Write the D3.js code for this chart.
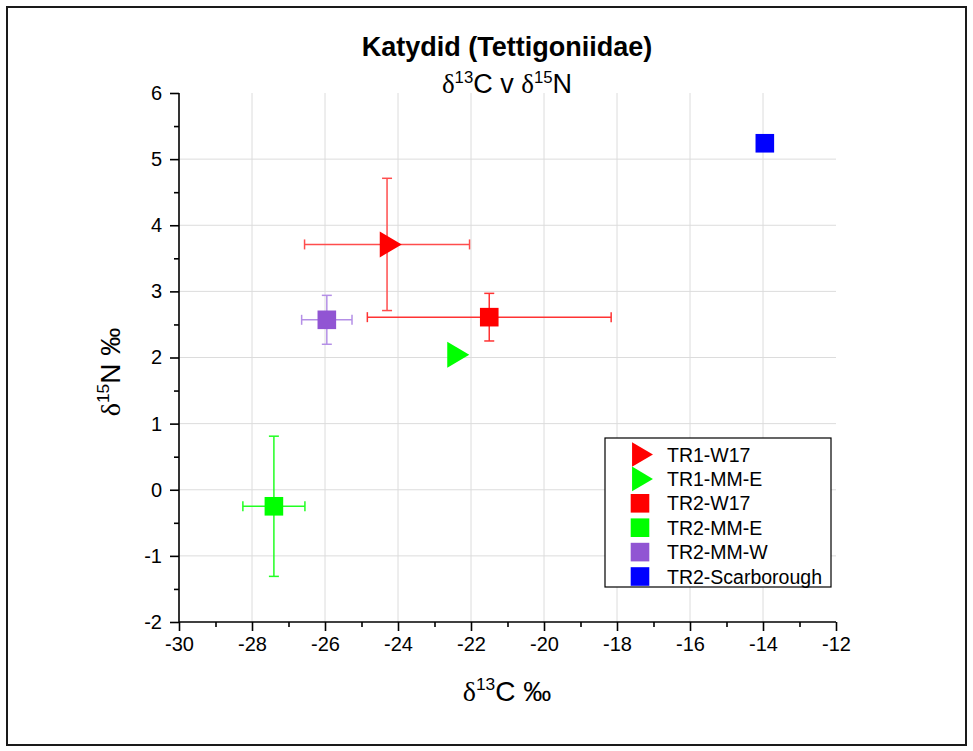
<!DOCTYPE html>
<html>
<head>
<meta charset="utf-8">
<script src="https://cdn.jsdelivr.net/npm/d3@7"></script>
<style>
  body { margin: 0; background: #fff; }
  svg { display: block; font-family: "Liberation Sans", Arial, sans-serif; }
</style>
</head>
<body>
<svg id="chart" width="973" height="751"></svg>
<script>
// ---- data ----
const seriesNames = ["TR1-W17", "TR1-MM-E", "TR2-W17", "TR2-MM-E", "TR2-MM-W", "TR2-Scarborough"];
const xValues = [-24.3, -22.45, -21.5, -27.4, -25.95, -13.95];
const yValues = [3.71, 2.04, 2.61, -0.25, 2.57, 5.24];
const xErrors = [2.26, 0, 3.34, 0.85, 0.69, 0];
const yErrors = [1.0, 0, 0.36, 1.06, 0.37, 0];
const shapes = ["triangle", "triangle", "square", "square", "square", "square"];
const colors = ["#ff0000", "#00ff00", "#ff0000", "#00ff00", "#9155d3", "#0000ff"];
const errColors = ["#ff4d4d", "#33ff33", "#ff3333", "#22ff22", "#b48fe6", "#4d4dff"];
const xTicks = [-30, -28, -26, -24, -22, -20, -18, -16, -14, -12];
const yTicks = [-2, -1, 0, 1, 2, 3, 4, 5, 6];

const data = seriesNames.map((n, i) => ({
  name: n, x: xValues[i], y: yValues[i], xe: xErrors[i], ye: yErrors[i],
  shape: shapes[i], color: colors[i], ecolor: errColors[i]
}));

const svg = d3.select("#chart");
const x = d3.scaleLinear().domain([-30, -12]).range([179, 836]);
const y = d3.scaleLinear().domain([-2, 6]).range([622, 93]);

// outer frame
svg.append("rect").attr("x", 7).attr("y", 7).attr("width", 959).attr("height", 738)
  .attr("fill", "none").attr("stroke", "#1a1a1a").attr("stroke-width", 2);

// grid
const grid = svg.append("g").attr("stroke", "#dcdcdc").attr("stroke-width", 1);
xTicks.filter(t => t > -30 && t < -12).forEach(t => {
  grid.append("line").attr("x1", x(t)).attr("x2", x(t)).attr("y1", y(6)).attr("y2", y(-2));
});
yTicks.filter(t => t > -2 && t < 6).forEach(t => {
  grid.append("line").attr("x1", x(-30)).attr("x2", x(-12)).attr("y1", y(t)).attr("y2", y(t));
});

// axes
const fmt = d => String(d);
const xAxis = d3.axisBottom(x).tickValues(xTicks).tickSize(9).tickPadding(6).tickFormat(fmt);
const xMinor = d3.axisBottom(x).tickValues(d3.range(-29, -12, 2)).tickSize(5).tickFormat("");
const yAxis = d3.axisLeft(y).tickValues(yTicks).tickSize(9).tickPadding(8).tickFormat(fmt);
const yMinor = d3.axisLeft(y).tickValues(d3.range(-1.5, 6, 1)).tickSize(5).tickFormat("");

function styleAxis(g) {
  g.select(".domain").attr("stroke", "#000").attr("stroke-width", 1.6);
  g.selectAll(".tick line").attr("stroke", "#000").attr("stroke-width", 1.6);
  g.selectAll(".tick text").attr("font-size", 20).attr("fill", "#000")
    .attr("font-family", "'Liberation Sans', Arial, sans-serif");
}
svg.append("g").attr("transform", `translate(0,${y(-2)})`).call(xMinor).call(styleAxis).select(".domain").remove();
svg.append("g").attr("transform", `translate(${x(-30)},0)`).call(yMinor).call(styleAxis).select(".domain").remove();
svg.append("g").attr("transform", `translate(0,${y(-2)})`).call(xAxis).call(g => {
  styleAxis(g);
  g.select(".domain").attr("d", `M${x(-30)},0H${x(-12)}`);
});
svg.append("g").attr("transform", `translate(${x(-30)},0)`).call(yAxis).call(g => {
  styleAxis(g);
  g.select(".domain").attr("d", `M0,${y(-2)}V${y(6)}`);
});

// titles
function deltaPart(sel, iso, elem, size) {
  sel.append("tspan").attr("font-family", "'Liberation Serif', 'DejaVu Serif', serif").text("δ");
  sel.append("tspan").attr("font-size", size * 0.62).attr("dy", -size * 0.38).text(iso);
  sel.append("tspan").attr("dy", size * 0.38).text(elem);
}
svg.append("text").attr("x", 507).attr("y", 56).attr("text-anchor", "middle")
  .attr("font-size", 27).attr("font-weight", "bold").text("Katydid (Tettigoniidae)");
const sub = svg.append("text").attr("x", 507).attr("y", 93).attr("text-anchor", "middle").attr("font-size", 27);
deltaPart(sub, "13", "C v ", 27);
deltaPart(sub, "15", "N", 27);

const xl = svg.append("text").attr("x", 507).attr("y", 701).attr("text-anchor", "middle").attr("font-size", 28);
deltaPart(xl, "13", "C ‰", 28);
const yl = svg.append("text").attr("transform", "translate(120,372) rotate(-90)")
  .attr("text-anchor", "middle").attr("font-size", 28);
deltaPart(yl, "15", "N ‰", 28);

// symbols
function drawSymbol(g, shape, cx, cy, color, s) {
  if (shape === "triangle") {
    g.append("path")
      .attr("d", `M${cx - 7.3 * s},${cy - 13 * s}L${cx + 14.7 * s},${cy}L${cx - 7.3 * s},${cy + 13 * s}Z`)
      .attr("fill", color);
  } else {
    g.append("rect").attr("x", cx - 9.3 * s).attr("y", cy - 9.3 * s)
      .attr("width", 18.6 * s).attr("height", 18.6 * s).attr("fill", color);
  }
}

// error bars
const eb = svg.append("g").attr("stroke-width", 1.5);
data.forEach(d => {
  const cx = x(d.x), cy = y(d.y), cap = 5;
  if (d.xe > 0) {
    const x1 = x(d.x - d.xe), x2 = x(d.x + d.xe);
    eb.append("line").attr("x1", x1).attr("x2", x2).attr("y1", cy).attr("y2", cy).attr("stroke", d.ecolor);
    [x1, x2].forEach(xx => eb.append("line").attr("x1", xx).attr("x2", xx)
      .attr("y1", cy - cap).attr("y2", cy + cap).attr("stroke", d.ecolor));
  }
  if (d.ye > 0) {
    const y1 = y(d.y + d.ye), y2 = y(d.y - d.ye);
    eb.append("line").attr("x1", cx).attr("x2", cx).attr("y1", y1).attr("y2", y2).attr("stroke", d.ecolor);
    [y1, y2].forEach(yy => eb.append("line").attr("x1", cx - cap).attr("x2", cx + cap)
      .attr("y1", yy).attr("y2", yy).attr("stroke", d.ecolor));
  }
});

// markers
const mk = svg.append("g");
data.forEach(d => drawSymbol(mk, d.shape, x(d.x), y(d.y), d.color, 1));

// legend
const lg = svg.append("g");
lg.append("rect").attr("x", 605).attr("y", 438).attr("width", 226).attr("height", 149)
  .attr("fill", "#fff").attr("stroke", "#000").attr("stroke-width", 1.2);
data.forEach((d, i) => {
  const cy = 454.5 + i * 24.4;
  drawSymbol(lg, d.shape, d.shape === "triangle" ? 639 : 640, cy, d.color, d.shape === "triangle" ? 0.95 : 1);
  lg.append("text").attr("x", 667).attr("y", cy + 7).attr("font-size", 19.5).text(d.name);
});
</script>
</body>
</html>
